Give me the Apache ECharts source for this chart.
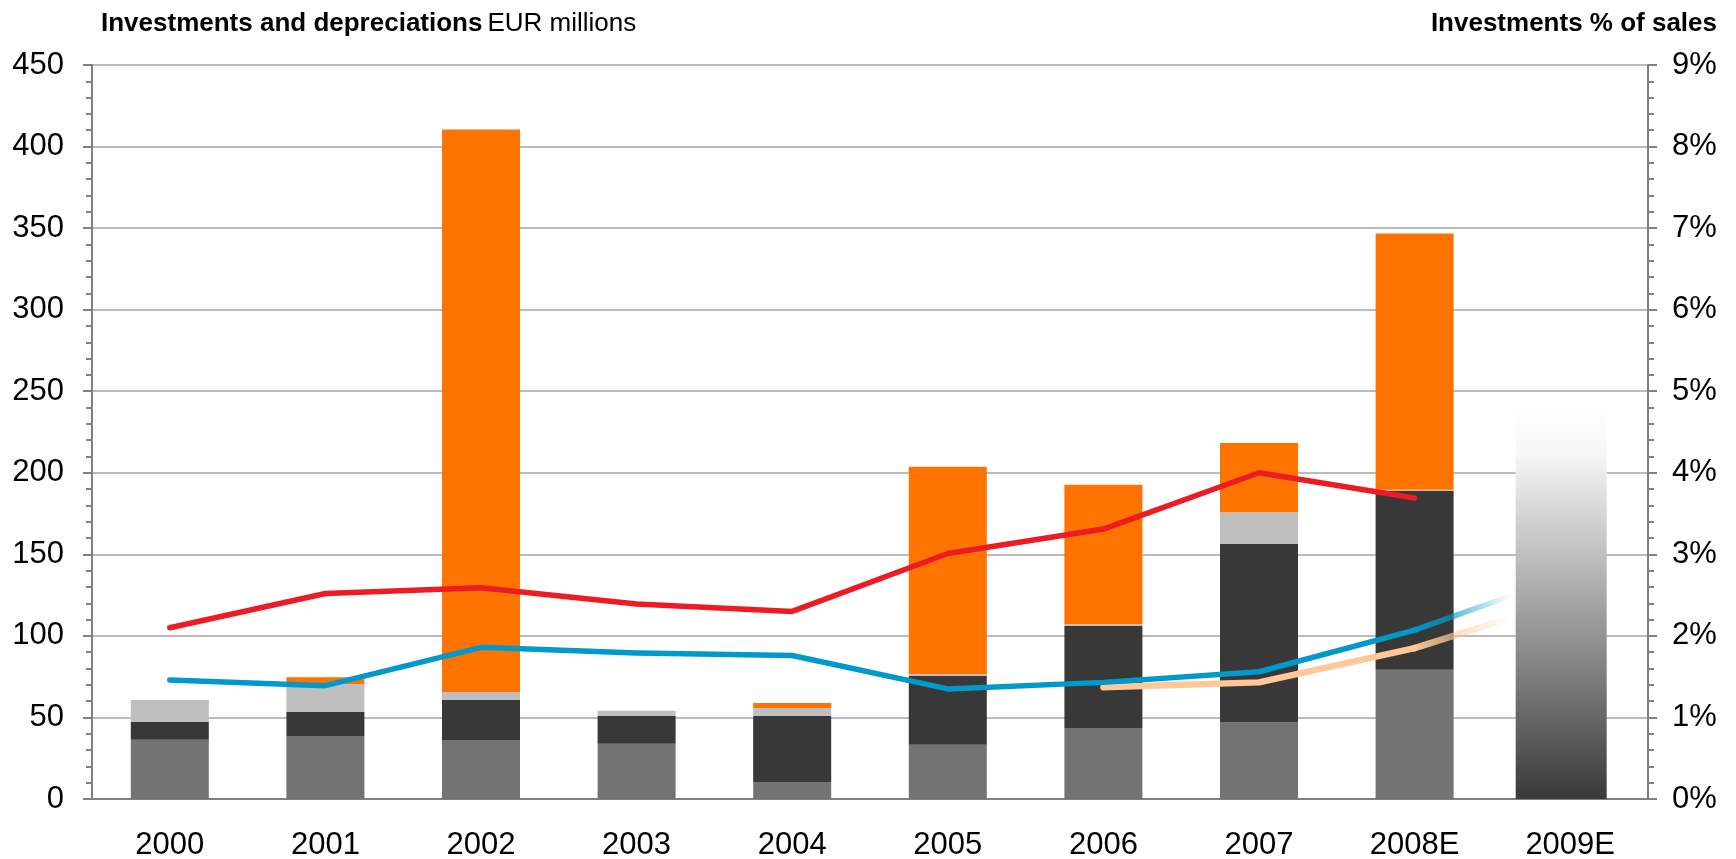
<!DOCTYPE html>
<html>
<head>
<meta charset="utf-8">
<title>Investments and depreciations</title>
<script src="https://cdn.jsdelivr.net/npm/echarts@6/dist/echarts.min.js"></script>
<style>
  html, body { margin: 0; padding: 0; background: #fff; }
  #chart { width: 1736px; height: 859px; }
</style>
</head>
<body>
<div id="chart"></div>
<script>
// categories
var years = ['2000', '2001', '2002', '2003', '2004', '2005', '2006', '2007', '2008E', '2009E']

// stacked bar segments, EUR millions (bottom to top)
var midGray   = [36.3, 38.7, 36.2, 33.8, 10.4, 33.3, 43.5, 46.9, 79.3, '-']
var darkGray  = [11.0, 14.7, 24.6, 17.2, 40.6, 42.1, 62.5, 109.4, 109.5, '-']
var lightGray = [13.4, 17.1, 4.8, 3.1, 4.8, 1.3, 1.2, 19.5, 0.8, '-']
var orange    = [0, 4.2, 344.8, 0, 3.1, 127.0, 85.5, 42.5, 157.1, '-']
// 2009E estimate bar (faded)
var estimate  = ['-', '-', '-', '-', '-', '-', '-', '-', '-', 240]
var spacer    = ['-', '-', '-', '-', '-', '-', '-', '-', '-', '-']

// lines, % of sales
var redLine   = [2.10, 2.52, 2.59, 2.39, 2.30, 3.01, 3.31, 4.00, 3.69, '-']
var blueLine  = [1.46, 1.39, 1.86, 1.79, 1.76, 1.35, 1.43, 1.56, 2.07, '-']
var blueFade  = ['-', '-', '-', '-', '-', '-', '-', '-', 2.07, 2.75]
var peachLine = ['-', '-', '-', '-', '-', '-', 1.37, 1.43, 1.85, '-']
var peachFade = ['-', '-', '-', '-', '-', '-', '-', '-', 1.85, 2.45]

// tick labels
var leftMax = 450, leftStep = 50
var rightMax = 9, rightStep = 1

var font = 'Liberation Sans, Arial, sans-serif'
var axisGray = '#808080'

var myChart = echarts.init(document.getElementById('chart'))

function fade(r, g, b) {
  return new echarts.graphic.LinearGradient(0, 0, 1, 0, [
    { offset: 0, color: 'rgba(' + r + ',' + g + ',' + b + ',1)' },
    { offset: 0.2, color: 'rgba(' + r + ',' + g + ',' + b + ',0.75)' },
    { offset: 0.62, color: 'rgba(' + r + ',' + g + ',' + b + ',0)' },
    { offset: 1, color: 'rgba(' + r + ',' + g + ',' + b + ',0)' }
  ])
}

function valueAxis(max, step, pos, fmt, margin, grid) {
  return {
    type: 'value',
    position: pos,
    min: 0,
    max: max,
    interval: step,
    axisLine: { show: true, lineStyle: { color: axisGray, width: 2 } },
    axisTick: { show: true, length: 9, lineStyle: { color: axisGray, width: 2 } },
    minorTick: { show: true, splitNumber: 5, length: 6, lineStyle: { color: axisGray, width: 2 } },
    splitLine: { show: grid, lineStyle: { color: '#a6a6a6', width: 1.5 } },
    axisLabel: { formatter: fmt, fontSize: 31, color: '#000', fontFamily: font, margin: margin }
  }
}

function barPart(name, data, color) {
  return {
    name: name,
    type: 'bar',
    stack: 'inv',
    barWidth: 78,
    data: data,
    itemStyle: { color: color },
    z: 2
  }
}

function line(name, data, color, width, z) {
  return {
    name: name,
    type: 'line',
    yAxisIndex: 1,
    data: data,
    symbol: 'none',
    connectNulls: false,
    lineStyle: { color: color, width: width, cap: 'round', join: 'round' },
    z: z
  }
}

myChart.setOption({
  animation: false,
  textStyle: { fontFamily: font },
  title: [
    {
      text: '{b|Investments and depreciations} {n|EUR millions}',
      left: 96,
      top: 6,
      textStyle: {
        rich: {
          b: { fontSize: 26, fontWeight: 'bold', color: '#000', fontFamily: font },
          n: { fontSize: 26, fontWeight: 'normal', color: '#000', fontFamily: font }
        }
      }
    },
    {
      text: 'Investments % of sales',
      right: 14,
      top: 6,
      textStyle: { fontSize: 26, fontWeight: 'bold', color: '#000', fontFamily: font }
    }
  ],
  grid: { left: 92, right: 88, top: 65, bottom: 60, containLabel: false, outerBoundsMode: 'none' },
  xAxis: [
    {
      type: 'category',
      data: years,
      axisLine: { show: true, lineStyle: { color: axisGray, width: 2 } },
      axisTick: { show: false },
      axisLabel: { fontSize: 31, color: '#000', fontFamily: font, margin: 31 }
    },
    {
      type: 'category',
      data: years,
      show: false
    }
  ],
  yAxis: [
    valueAxis(leftMax, leftStep, 'left', '{value}', 28, true),
    valueAxis(rightMax, rightStep, 'right', '{value}%', 24, false)
  ],
  series: [
    barPart('Depreciations', midGray, '#737373'),
    barPart('Capex', darkGray, '#383838'),
    barPart('Other', lightGray, '#bfbfbf'),
    barPart('Acquisitions', orange, '#ff7300'),
    {
      name: 'Estimate',
      type: 'bar',
      xAxisIndex: 1,
      barWidth: 91,
      barGap: 0,
      data: estimate,
      itemStyle: {
        color: new echarts.graphic.LinearGradient(0, 0, 0, 1, [
          { offset: 0, color: '#ffffff' },
          { offset: 0.12, color: '#f6f6f6' },
          { offset: 1, color: '#3a3a3a' }
        ])
      },
      z: 2
    },
    {
      // empty bar, only nudges the estimate bar a little to the left
      name: 'spacer',
      type: 'bar',
      xAxisIndex: 1,
      barWidth: 18,
      barGap: 0,
      data: spacer
    },
    line('Depreciations % (adj.)', peachLine, '#ffc896', 6.5, 3),
    line('Depreciations % (adj.) est.', peachFade, fade(255, 200, 150), 6.5, 3),
    line('Depreciations %', blueLine, '#0099cc', 5.5, 4),
    line('Depreciations % est.', blueFade, fade(0, 153, 204), 5.5, 4),
    line('Investments %', redLine, '#ed1c24', 5.5, 5)
  ]
})
</script>
</body>
</html>
